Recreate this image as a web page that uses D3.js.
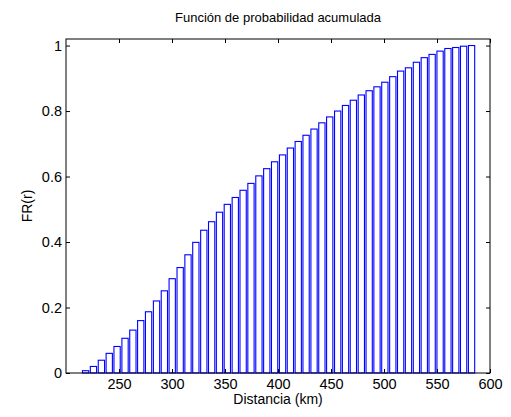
<!DOCTYPE html>
<html>
<head>
<meta charset="utf-8">
<script src="https://cdn.jsdelivr.net/npm/d3@7"></script>
<style>
  body { margin: 0; background: #fff; }
  svg text { font-family: "Liberation Sans", Arial, sans-serif; fill: #000; }
</style>
</head>
<body>
<div id="chart"></div>
<script>
// bin centres (km)
const distancias = [
  218.5, 225.9, 233.4, 240.8, 248.2, 255.7, 263.1, 270.5, 277.9, 285.4,
  292.8, 300.2, 307.7, 315.1, 322.5, 330.0, 337.4, 344.8, 352.2, 359.7,
  367.1, 374.5, 382.0, 389.4, 396.8, 404.3, 411.7, 419.1, 426.5, 434.0,
  441.4, 448.8, 456.3, 463.7, 471.1, 478.6, 486.0, 493.4, 500.8, 508.3,
  515.7, 523.1, 530.6, 538.0, 545.4, 552.9, 560.3, 567.7, 575.1, 582.6
];
// cumulative probability FR(r)
const fr = [
  0.007, 0.020, 0.039, 0.060, 0.081, 0.106, 0.131, 0.160, 0.187, 0.220,
  0.251, 0.288, 0.322, 0.361, 0.399, 0.436, 0.462, 0.491, 0.515, 0.536,
  0.558, 0.579, 0.602, 0.624, 0.645, 0.666, 0.687, 0.707, 0.726, 0.745,
  0.764, 0.782, 0.800, 0.817, 0.833, 0.849, 0.862, 0.874, 0.888, 0.905,
  0.922, 0.932, 0.949, 0.963, 0.973, 0.983, 0.991, 0.994, 0.998, 1.000
];
const xTicks = [250, 300, 350, 400, 450, 500, 550, 600];
const yTicks = [0, 0.2, 0.4, 0.6, 0.8, 1];

const width = 511, height = 417;
const margin = { top: 39, right: 21, bottom: 44, left: 66 };
const w = width - margin.left - margin.right;
const h = height - margin.top - margin.bottom;

const svg = d3.select("#chart").append("svg")
  .attr("width", width)
  .attr("height", height);

const g = svg.append("g")
  .attr("transform", `translate(${margin.left},${margin.top})`);

const x = d3.scaleLinear().domain([200, 600]).range([0, w]);
const y = d3.scaleLinear().domain([0, 1.02]).range([h, 0]);

const step = distancias[1] - distancias[0];
const barW = x(200 + step * 0.8) - x(200);

// bars
g.selectAll("rect.bar")
  .data(distancias)
  .enter()
  .append("rect")
  .attr("class", "bar")
  .attr("x", (d) => x(d) - barW / 2)
  .attr("y", (d, i) => y(fr[i]))
  .attr("width", barW)
  .attr("height", (d, i) => y(0) - y(fr[i]))
  .attr("fill", "#fff")
  .attr("stroke", "#0000ff")
  .attr("stroke-width", 1.1);

// axes (MATLAB style box, ticks inside)
const tickLen = 4;
g.append("g")
  .attr("transform", `translate(0,${h})`)
  .call(d3.axisBottom(x).tickValues(xTicks).tickSizeInner(-tickLen).tickSizeOuter(0).tickPadding(6))
  .call((a) => a.select(".domain").remove())
  .selectAll("text").style("font-size", "14.5px");

g.append("g")
  .call(d3.axisTop(x).tickValues(xTicks).tickSizeInner(-tickLen).tickSizeOuter(0).tickFormat(""))
  .call((a) => a.select(".domain").remove());

g.append("g")
  .call(d3.axisLeft(y).tickValues(yTicks).tickSizeInner(-tickLen).tickSizeOuter(0).tickPadding(4).tickFormat(d3.format("")))
  .call((a) => a.select(".domain").remove())
  .selectAll("text").style("font-size", "14.5px");

g.append("g")
  .attr("transform", `translate(${w},0)`)
  .call(d3.axisRight(y).tickValues(yTicks).tickSizeInner(-tickLen).tickSizeOuter(0).tickFormat(""))
  .call((a) => a.select(".domain").remove());

g.selectAll(".tick line").attr("stroke", "#000");

g.append("rect")
  .attr("width", w)
  .attr("height", h)
  .attr("fill", "none")
  .attr("stroke", "#000")
  .attr("stroke-width", 1);

// labels
svg.append("text")
  .attr("x", margin.left + w / 2)
  .attr("y", 22)
  .attr("text-anchor", "middle")
  .style("font-size", "13px")
  .text("Función de probabilidad acumulada");

svg.append("text")
  .attr("x", margin.left + w / 2)
  .attr("y", 404)
  .attr("text-anchor", "middle")
  .style("font-size", "14px")
  .text("Distancia (km)");

svg.append("text")
  .attr("transform", `translate(32,${margin.top + h / 2}) rotate(-90)`)
  .attr("text-anchor", "middle")
  .style("font-size", "14px")
  .text("FR(r)");
</script>
</body>
</html>
